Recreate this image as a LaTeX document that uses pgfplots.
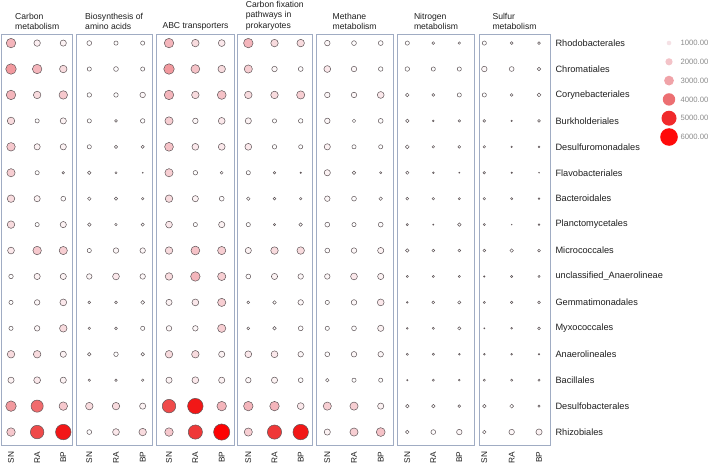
\documentclass[border=0pt]{standalone}
\usepackage{fontspec}
\setmainfont{Liberation Sans}
\usepackage{pgfplots}
\usepackage{pgfplotstable}
\pgfplotsset{compat=1.18}

\definecolor{boxc}{RGB}{160,172,195}
\definecolor{outl}{RGB}{95,85,88}
\definecolor{txt}{RGB}{30,30,30}
\definecolor{legt}{RGB}{140,140,140}

% Carbon metabolism
\pgfplotstableread{
r SN RA BP
0 3380 2230 2120
1 3770 3380 2620
2 3380 2620 3000
3 2620 1350 2120
4 3000 2120 2120
5 2880 1350 690
6 2620 2120 1580
7 2620 1350 2120
8 2350 3000 2880
9 1460 2120 2120
10 1350 1850 2350
11 1350 1850 2620
12 2620 2620 2120
13 2120 2350 2120
14 3770 4420 3000
15 3000 4920 5690
}\pA
% Biosynthesis of amino acids
\pgfplotstableread{
r SN RA BP
0 1580 1350 1350
1 1350 1580 1350
2 1460 1460 1850
3 1350 810 1460
4 1350 960 960
5 1080 580 120
6 1080 960 690
7 1080 690 960
8 1350 1850 1850
9 1850 2350 1850
10 810 810 1190
11 690 810 1350
12 1080 1460 1080
13 690 690 690
14 2620 2620 2120
15 1580 2350 2620
}\pB
% ABC transporters
\pgfplotstableread{
r SN RA BP
0 3380 2620 2350
1 3770 3120 2620
2 3380 2620 3120
3 2880 1850 2350
4 3120 2350 2350
5 2880 1460 810
6 2620 2120 1580
7 2350 1350 2120
8 2620 3120 2880
9 2620 3380 2880
10 2120 2350 2880
11 1850 1850 2880
12 2620 2620 2120
13 2120 2350 2120
14 4920 5690 3380
15 3000 5190 5960
}\pC
% Carbon fixation pathways in prokaryotes
\pgfplotstableread{
r SN RA BP
0 3380 2620 2620
1 2880 1850 1580
2 2620 2620 2880
3 2120 1350 1460
4 2350 1460 1350
5 1350 690 310
6 1080 810 690
7 1350 580 1080
8 2120 2620 2620
9 1580 2120 1850
10 810 1080 1850
11 810 1080 1580
12 2350 2350 1850
13 1850 2120 1580
14 3380 3380 2350
15 2880 5190 5690
}\pD
% Methane metabolism
\pgfplotstableread{
r SN RA BP
0 1850 1580 1580
1 2350 1850 1460
2 1850 1850 2350
3 1850 1080 1580
4 2120 1350 1350
5 2120 1080 580
6 1850 1580 1080
7 1580 1350 1580
8 1580 1850 2120
9 1850 2350 2120
10 1350 1850 2350
11 1350 1580 2120
12 1580 1850 1850
13 1080 1350 1350
14 2880 2880 2120
15 2120 2880 3120
}\pE
% Nitrogen metabolism
\pgfplotstableread{
r SN RA BP
0 1350 810 690
1 1460 1350 1350
2 1080 810 1350
3 1080 420 690
4 1190 690 810
5 960 420 190
6 810 690 580
7 580 190 1080
8 1080 810 810
9 580 580 580
10 420 810 960
11 420 580 960
12 580 580 420
13 310 580 420
14 1080 1080 810
15 1080 1580 1850
}\pF
% Sulfur metabolism
\pgfplotstableread{
r SN RA BP
0 1350 810 810
1 1850 1580 1080
2 1350 810 1190
3 810 310 810
4 690 310 420
5 690 310 50
6 690 580 420
7 580 50 420
8 810 1080 810
9 310 580 580
10 580 690 810
11 190 420 810
12 420 420 310
13 580 580 580
14 1080 1190 580
15 1080 1850 2120
}\pG

\pgfplotsset{
  colormap={bub}{rgb255(0)=(255,255,255) rgb255(15)=(255,255,255) rgb255(22)=(252,240,242) rgb255(28)=(247,210,214) rgb255(34)=(244,180,186) rgb255(43)=(240,115,118) rgb255(49)=(239,75,75) rgb255(56)=(238,30,30) rgb255(60)=(255,0,0)},
  panel/.style={
    anchor=north west, scale only axis, height=411pt,
    ymin=-0.35, ymax=15.5, y dir=reverse, ytick=\empty,
    xtick={0,1,2}, xticklabels={SN,RA,BP},
    xticklabel style={rotate=90, anchor=east, font=\fontsize{8.3}{10}\selectfont, text=txt},
    xticklabel shift=3pt,
    major tick length=0pt, tick style={draw=none},
    axis line style={draw=boxc, line width=0.8pt},
    point meta min=0, point meta max=6000, colormap name=bub, clip=false,
    title style={at={(0.5,1)}, anchor=south, align=left, font=\fontsize{8.6}{10.2}\selectfont, text=txt, inner sep=1pt, yshift=-3pt},
  },
  bub/.style={scatter, only marks, mark=*, point meta=\thisrow{#1},
    scatter/use mapped color={draw=outl, fill=mapped color, line width=0.5pt},
    visualization depends on={0.35+1.3*\thisrow{#1}/1000 \as \msize},
    scatter/@pre marker code/.append style={/tikz/mark size=\msize pt}},
}

\newcommand{\threecols}[1]{%
  \addplot[bub=SN] table[x expr=0, y=r]{#1};
  \addplot[bub=RA] table[x expr=1, y=r]{#1};
  \addplot[bub=BP] table[x expr=2, y=r]{#1};
}

\begin{document}
\begin{tikzpicture}
\useasboundingbox (0,0) rectangle (708pt,-467pt);

\begin{axis}[panel, at={(1.7pt,-34pt)}, width=71pt, xmin=-0.356, xmax=2.36, title={Carbon\\metabolism}]
\threecols{\pA}
\end{axis}

\begin{axis}[panel, at={(76pt,-34pt)}, width=76.3pt, xmin=-0.498, xmax=2.36, title={Biosynthesis of\\amino acids}]
\threecols{\pB}
\end{axis}

\begin{axis}[panel, at={(156.7pt,-34pt)}, width=77.6pt, xmin=-0.467, xmax=2.478, title={ABC transporters}]
\threecols{\pC}
\end{axis}

\begin{axis}[panel, at={(237.3pt,-34pt)}, width=75pt, xmin=-0.42, xmax=2.443, title={Carbon fixation\\pathways in\\prokaryotes}]
\threecols{\pD}
\end{axis}

\begin{axis}[panel, at={(316pt,-34pt)}, width=77.3pt, xmin=-0.423, xmax=2.472, title={Methane\\metabolism}]
\threecols{\pE}
\end{axis}

\begin{axis}[panel, at={(397.7pt,-34pt)}, width=76.6pt, xmin=-0.369, xmax=2.577, title={Nitrogen\\metabolism}]
\threecols{\pF}
\end{axis}

\begin{axis}[panel, at={(479pt,-34pt)}, width=71pt, xmin=-0.194, xmax=2.402, title={Sulfur\\metabolism},
  ytick={0,...,15}, yticklabel pos=right,
  yticklabels={Rhodobacterales,Chromatiales,Corynebacteriales,Burkholderiales,Desulfuromonadales,Flavobacteriales,Bacteroidales,Planctomycetales,Micrococcales,unclassified\_Anaerolineae,Gemmatimonadales,Myxococcales,Anaerolineales,Bacillales,Desulfobacterales,Rhizobiales},
  yticklabel style={anchor=west, xshift=2pt, font=\fontsize{9.2}{11}\selectfont, text=txt}]
\threecols{\pG}
\end{axis}

% size / colour key
\begin{axis}[at={(661pt,-33.6pt)}, anchor=north west, scale only axis, width=16pt, height=112.8pt,
  xmin=-1, xmax=1, ymin=0.5, ymax=6.5, y dir=reverse, xtick=\empty,
  ytick={1,...,6}, yticklabels={1000.00,2000.00,3000.00,4000.00,5000.00,6000.00},
  yticklabel pos=right,
  yticklabel style={anchor=west, font=\fontsize{7.7}{9}\selectfont, text=legt},
  axis line style={draw=none}, major tick length=0pt, tick style={draw=none},
  point meta min=1000, point meta max=6000, clip=false,
  colormap={leg}{rgb255(0)=(245,225,229) rgb255(1)=(243,195,200) rgb255(2)=(240,163,168) rgb255(3)=(236,111,114) rgb255(4)=(240,42,44) rgb255(5)=(255,10,10)}]
\addplot[scatter, only marks, mark=*, point meta=\thisrow{v},
  scatter/use mapped color={draw opacity=0, fill=mapped color},
  visualization depends on={1.0+1.3*\thisrow{v}/1000 \as \msize},
  scatter/@pre marker code/.append style={/tikz/mark size=\msize pt}]
  table[x expr=0, y=k]{
k v
1 1000
2 2000
3 3000
4 4000
5 5000
6 6000
};
\end{axis}
\end{tikzpicture}
\end{document}
